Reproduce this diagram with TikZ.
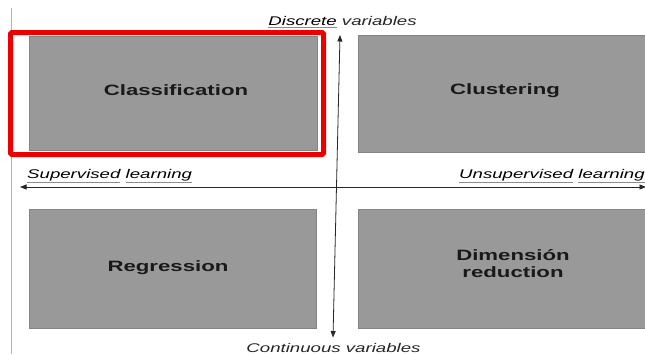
\documentclass[tikz,border=0pt]{standalone}
\usepackage{fontspec}
\setmainfont{Liberation Sans}
\usepackage{graphicx}
\usetikzlibrary{arrows.meta}

% horizontally widened lettering
\newcommand{\wide}[1]{\scalebox{1.48}[1]{#1}}
% gray underline beneath a word, text stays black
\newcommand{\gul}[1]{{\color{black!45}\underline{\textcolor{black}{#1}}}}

\begin{document}
\begin{tikzpicture}[x=1pt,y=-1pt,
  quad/.style={rectangle, fill=black!40, draw=black!48, line width=0.6pt,
               inner sep=0pt},
  quadtext/.style={font=\fontsize{15}{17}\selectfont\bfseries, align=center,
               text=black!90, inner sep=0pt},
  axislabel/.style={font=\fontsize{12.6}{14}\selectfont\itshape,
               text=black!85, inner sep=0pt},
  axis/.style={line width=0.8pt, black!85,
               arrows={Triangle[length=6.5pt,width=5pt]-Triangle[length=6.5pt,width=5pt]}},
  selframe/.style={rectangle, draw=red!92!black, line width=5pt,
               rounded corners=1.5pt, inner sep=0pt}
]
\useasboundingbox (0,0) rectangle (645,354);
\clip (0,0) rectangle (645,354);
\fill[white] (0,0) rectangle (645,354);

% faint page edge on the left
\draw[black!30, line width=0.6pt] (11,8) -- (11,354);

% the four quadrants
\node[quad, minimum width=288pt, minimum height=114pt] (cls) at (173,93) {};
\node[quad, minimum width=294pt, minimum height=117pt] (clu) at (505,93.5) {};
\node[quad, minimum width=287pt, minimum height=119pt] (reg) at (172.5,268.5) {};
\node[quad, minimum width=310pt, minimum height=119pt] (dim) at (513,268.5) {};

\node[quadtext] (clsT) at (176,90.5) {\wide{Classification}};
\node[quadtext] (cluT) at (505,90.5) {\wide{Clustering}};
\node[quadtext] (regT) at (168,267.5) {\wide{Regression}};
\node[quadtext] (dimT) at (513,264) {\wide{Dimensión}\\\wide{reduction}};

% highlight around the supervised/discrete quadrant
\node[selframe, minimum width=313pt, minimum height=122pt] (sel) at (167,93.5) {};

% axes
\coordinate (vtop) at (340,35);
\coordinate (vbot) at (333,337.5);
\coordinate (hleft) at (20,187);
\coordinate (hright) at (646,187);
\draw[axis] (vbot) -- (vtop);
\draw[axis] (hleft) -- (hright);

% axis labels
\node[axislabel, anchor=base] (disc) at (342.5,25.5)
  {\wide{\gul{Discrete} variables}};
\node[axislabel, anchor=base] (cont) at (333.5,352.5)
  {\wide{Continuous variables}};
\node[axislabel, anchor=base west] (sup) at (27,178)
  {\wide{\gul{Supervised} \gul{learning}}};
\node[axislabel, anchor=base west] (uns) at (459,178)
  {\wide{\gul{Unsupervised} \gul{learning}}};
\end{tikzpicture}
\end{document}
